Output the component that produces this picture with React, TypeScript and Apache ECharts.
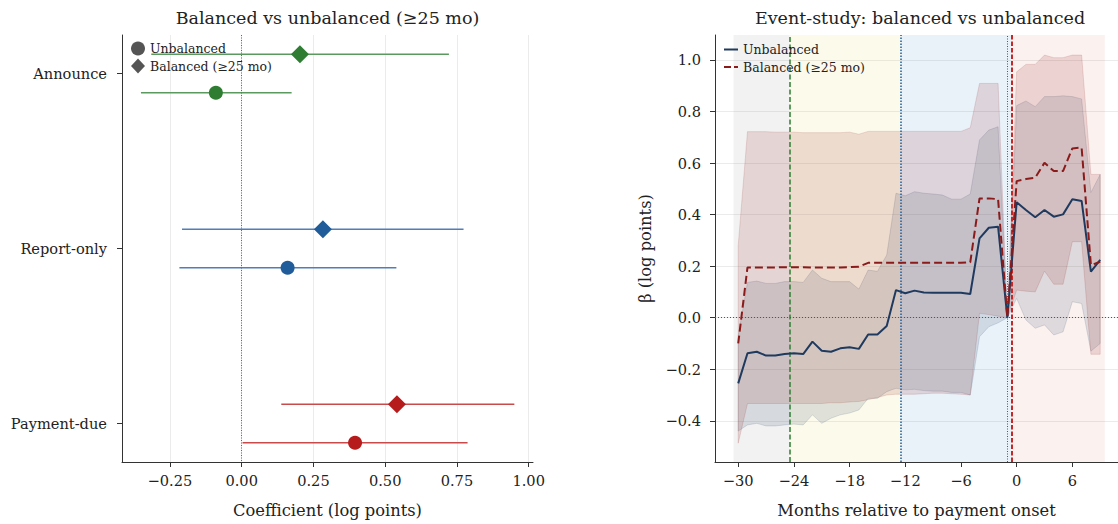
import React, { useEffect, useRef } from 'react';
import * as echarts from 'echarts';

// ---------- Left panel data ----------
const categories = ['Announce', 'Report-only', 'Payment-due'];
const categoryColors = ['#2e7d32', '#1f5c99', '#b71c1c'];
const barColors = ['#5a9a5e', '#4f7fb3', '#c84a4a'];
const unbalCoef = [-0.09, 0.16, 0.395];
const unbalLo = [-0.351, -0.217, 0.003];
const unbalHi = [0.174, 0.539, 0.787];
const balCoef = [0.203, 0.283, 0.541];
const balLo = [-0.315, -0.208, 0.138];
const balHi = [0.722, 0.773, 0.95];
const coefTicks = [-0.25, 0, 0.25, 0.5, 0.75, 1.0];
const categoryTicks = [0, 1, 2];

// ---------- Right panel data ----------
const months = [
  -30, -29, -28, -27, -26, -25, -24, -23, -22, -21, -20, -19, -18, -17, -16,
  -15, -14, -13, -12, -11, -10, -9, -8, -7, -6, -5, -4, -3, -2, -1,
  0, 1, 2, 3, 4, 5, 6, 7, 8, 9,
];
const unbalancedBeta = [
  -0.255, -0.138, -0.132, -0.147, -0.147, -0.141, -0.138, -0.141, -0.093, -0.128,
  -0.132, -0.119, -0.115, -0.121, -0.065, -0.065, -0.032, 0.107, 0.095, 0.105,
  0.098, 0.097, 0.097, 0.097, 0.097, 0.092, 0.308, 0.349, 0.353, 0,
  0.448, 0.418, 0.39, 0.418, 0.392, 0.401, 0.46, 0.453, 0.179, 0.224,
];
const unbalancedHi = [
  -0.07, 0.137, 0.142, 0.133, 0.133, 0.14, 0.14, 0.137, 0.185, 0.153,
  0.14, 0.14, 0.14, 0.111, 0.185, 0.18, 0.243, 0.483, 0.473, 0.489,
  0.483, 0.48, 0.476, 0.46, 0.46, 0.48, 0.69, 0.728, 0.741, 0,
  0.823, 0.841, 0.819, 0.858, 0.858, 0.861, 0.858, 0.849, 0.486, 0.556,
];
const unbalancedLo = [
  -0.44, -0.416, -0.41, -0.42, -0.42, -0.416, -0.413, -0.416, -0.377, -0.41,
  -0.39, -0.377, -0.37, -0.358, -0.313, -0.313, -0.287, -0.274, -0.28, -0.278,
  -0.283, -0.285, -0.285, -0.29, -0.29, -0.3, -0.074, -0.035, -0.02, 0,
  0.075, -0.009, -0.041, -0.028, -0.067, -0.055, 0.062, 0.055, -0.13, -0.1,
];
const balancedBeta = [
  -0.1, 0.195, 0.195, 0.195, 0.195, 0.196, 0.196, 0.196, 0.195, 0.195,
  0.195, 0.195, 0.196, 0.198, 0.213, 0.213, 0.213, 0.213, 0.213, 0.213,
  0.213, 0.213, 0.213, 0.213, 0.213, 0.215, 0.463, 0.463, 0.46, 0,
  0.53, 0.538, 0.543, 0.601, 0.569, 0.569, 0.657, 0.66, 0.204, 0.217,
];
const balancedHi = [
  0.28, 0.722, 0.722, 0.722, 0.72, 0.72, 0.72, 0.718, 0.718, 0.718,
  0.718, 0.718, 0.72, 0.712, 0.723, 0.723, 0.723, 0.723, 0.723, 0.723,
  0.723, 0.723, 0.723, 0.723, 0.723, 0.737, 0.909, 0.909, 0.909, 0,
  0.954, 0.983, 0.983, 1.019, 1.009, 1.009, 1.019, 1.019, 0.556, 0.556,
];
const balancedLo = [
  -0.487, -0.333, -0.333, -0.333, -0.333, -0.333, -0.333, -0.333, -0.333, -0.333,
  -0.33, -0.33, -0.327, -0.325, -0.318, -0.31, -0.3, -0.297, -0.297, -0.297,
  -0.295, -0.293, -0.293, -0.295, -0.297, -0.3, 0.017, 0.012, 0.006, 0,
  0.107, 0.103, 0.1, 0.181, 0.13, 0.13, 0.295, 0.295, -0.142, -0.142,
];
const monthTicks = [-30, -24, -18, -12, -6, 0, 6];
const betaTicks = [-0.4, -0.2, 0, 0.2, 0.4, 0.6, 0.8, 1.0];
const phaseSpans = [
  { from: -30.5, to: -24.5, color: 'rgba(128,128,128,0.1)' },
  { from: -24.5, to: -12.5, color: 'rgba(230,210,60,0.1)' },
  { from: -12.5, to: -0.5, color: 'rgba(40,120,200,0.1)' },
  { from: -0.5, to: 9.5, color: 'rgba(215,100,80,0.09)' },
];
const eventLines = [
  { at: -24.5, color: '#2e7d32', dash: [5, 2.5], width: 1.5 },
  { at: -12.5, color: '#1f5c99', dash: [1.5, 1.5], width: 1.5 },
  { at: -1, color: '#555555', dash: [1, 1.5], width: 1 },
  { at: -0.5, color: '#c62828', dash: [4.5, 2], width: 2 },
];

const FONT = "'DejaVu Serif', serif";
const INK = '#222222';
const ZW = '\u200b';
const minus = (s: string) => s.replace('-', '\u2212');
const ROW_OFFSET = 0.11;
const Y2_MIN = -0.56;
const Y2_MAX = 1.097;

const UNBAL_BAND = 'rgba(31,58,95,0.13)';
const UNBAL_EDGE = 'rgba(31,58,95,0.14)';
const BAL_BAND = 'rgba(139,26,26,0.135)';
const BAL_EDGE = 'rgba(139,26,26,0.14)';

function bandSeries(name: string, lo: number[], hi: number[], fill: string, edge: string) {
  const data = months.map((m, i) => [m, lo[i], hi[i]]);
  return {
    name, type: 'custom', xAxisIndex: 1, yAxisIndex: 1, silent: true, z: 2, clip: true,
    encode: { x: 0, y: [1, 2] },
    data,
    renderItem: (params: any, api: any) => {
      if (params.dataIndex !== 0) return null;
      const upper = data.map((d) => api.coord([d[0], d[2]]));
      const lower = data.map((d) => api.coord([d[0], d[1]])).reverse();
      return {
        type: 'polygon',
        shape: { points: upper.concat(lower) },
        style: { fill, stroke: edge, lineWidth: 1 },
      };
    },
  };
}

function buildOption() {
  const axisLine = { show: true, onZero: false, lineStyle: { color: '#333', width: 1 } };
  const tickStyle = { color: '#333', width: 1 };
  const labelBase = { color: INK, fontSize: 14.6, fontFamily: FONT };
  const nameStyle = { color: INK, fontSize: 16.3, fontFamily: FONT };

  const errData: any[] = [];
  categories.forEach((_, i) => {
    errData.push([unbalLo[i], unbalHi[i], i + ROW_OFFSET, i]);
    errData.push([balLo[i], balHi[i], i - ROW_OFFSET, i]);
  });

  return {
    animation: false,
    textStyle: { fontFamily: FONT },
    grid: [
      { left: 122, right: 1118 - 533, top: 35, bottom: 62, outerBoundsMode: 'none', containLabel: false },
      { left: 715, right: 0, top: 35, bottom: 62, outerBoundsMode: 'none', containLabel: false },
    ],
    graphic: [
      {
        type: 'text', x: 327.5, y: 18, silent: true,
        style: { text: 'Balanced vs unbalanced (\u226525 mo)', align: 'center', verticalAlign: 'middle', textAlign: 'center', textVerticalAlign: 'middle', fontSize: 17.5, fontFamily: FONT, fill: INK },
      },
      {
        type: 'text', x: 920, y: 18, silent: true,
        style: { text: 'Event-study: balanced vs unbalanced', align: 'center', verticalAlign: 'middle', textAlign: 'center', textVerticalAlign: 'middle', fontSize: 17.5, fontFamily: FONT, fill: INK },
      },
    ],
    legend: [
      {
        data: [
          { name: 'Unbalanced' + ZW, icon: 'circle' },
          { name: 'Balanced (\u226525 mo)' + ZW, icon: 'diamond' },
        ],
        orient: 'vertical', left: 131, top: 41.5, itemWidth: 14, itemHeight: 15, itemGap: 3,
        padding: 0, selectedMode: false,
        formatter: (n: string) => n.replace(ZW, ''),
        textStyle: { color: INK, fontSize: 12.5, fontFamily: FONT },
      },
      {
        data: [
          { name: 'Unbalanced', icon: 'rect' },
          { name: 'Balanced (\u226525 mo)', icon: 'path://M0,0h7v2h-7z M10,0h4v2h-4z' },
        ],
        orient: 'vertical', left: 724, top: 43, itemWidth: 14, itemHeight: 2, itemGap: 4.5,
        padding: 0, selectedMode: false,
        textStyle: { color: INK, fontSize: 12.5, fontFamily: FONT },
      },
    ],
    xAxis: [
      {
        gridIndex: 0, type: 'value', min: -0.417, max: 1.015,
        axisLine, axisTick: { show: true, length: 5, customValues: coefTicks, lineStyle: tickStyle },
        axisLabel: { ...labelBase, margin: 10.5, customValues: coefTicks, formatter: (v: number) => minus(v.toFixed(2)) },
        splitLine: { show: true, lineStyle: { color: '#ebebeb', width: 1 } },
        name: 'Coefficient (log points)', nameLocation: 'middle', nameGap: 40, nameTextStyle: nameStyle,
      },
      {
        gridIndex: 1, type: 'value', min: -32.5, max: 10.92,
        axisLine, axisTick: { show: true, length: 5, customValues: monthTicks, lineStyle: tickStyle },
        axisLabel: { ...labelBase, margin: 10.5, customValues: monthTicks, formatter: (v: number) => minus(String(Math.round(v))) },
        splitLine: { show: false },
        name: 'Months relative to payment onset', nameLocation: 'middle', nameGap: 40, nameTextStyle: nameStyle,
      },
    ],
    yAxis: [
      {
        gridIndex: 0, type: 'value', min: -0.22, max: 2.22, inverse: true,
        axisLine, axisTick: { show: true, length: 5, customValues: categoryTicks, lineStyle: tickStyle },
        axisLabel: { ...labelBase, margin: 15, customValues: categoryTicks, formatter: (v: number) => categories[Math.round(v)] },
        splitLine: { show: false },
      },
      {
        gridIndex: 1, type: 'value', min: Y2_MIN, max: Y2_MAX,
        axisLine, axisTick: { show: true, length: 5, customValues: betaTicks, lineStyle: tickStyle },
        axisLabel: { ...labelBase, margin: 14, customValues: betaTicks, formatter: (v: number) => minus(v.toFixed(1)) },
        splitLine: { show: true, lineStyle: { color: '#ebebeb', width: 1 } },
        name: '\u03b2 (log points)', nameLocation: 'middle', nameGap: 62, nameRotate: 90, nameTextStyle: nameStyle,
      },
    ],
    series: [
      // ----- left panel -----
      {
        type: 'custom', xAxisIndex: 0, yAxisIndex: 0, silent: true, z: 2,
        encode: { x: [0, 1], y: 2 },
        data: errData,
        renderItem: (_p: any, api: any) => {
          const a = api.coord([api.value(0), api.value(2)]);
          const b = api.coord([api.value(1), api.value(2)]);
          return {
            type: 'line',
            shape: { x1: a[0], y1: a[1], x2: b[0], y2: b[1] },
            style: { stroke: barColors[api.value(3)], lineWidth: 1.6 },
          };
        },
      },
      {
        name: 'Unbalanced' + ZW, type: 'scatter', xAxisIndex: 0, yAxisIndex: 0, z: 3, silent: true,
        symbol: 'circle', symbolSize: 14, itemStyle: { color: '#555555', opacity: 1 },
        data: categories.map((_, i) => ({ value: [unbalCoef[i], i + ROW_OFFSET], itemStyle: { color: categoryColors[i], opacity: 1 } })),
        markLine: {
          silent: true, symbol: 'none', label: { show: false },
          lineStyle: { color: '#666', type: [1, 1.5], width: 1 },
          data: [{ xAxis: 0 }],
        },
      },
      {
        name: 'Balanced (\u226525 mo)' + ZW, type: 'scatter', xAxisIndex: 0, yAxisIndex: 0, z: 3, silent: true,
        symbol: 'diamond', symbolSize: 18, itemStyle: { color: '#555555', opacity: 1 },
        data: categories.map((_, i) => ({ value: [balCoef[i], i - ROW_OFFSET], itemStyle: { color: categoryColors[i], opacity: 1 } })),
      },
      // ----- right panel -----
      {
        name: 'phases', type: 'custom', xAxisIndex: 1, yAxisIndex: 1, silent: true, z: 1, clip: true,
        encode: { x: [0, 1] },
        data: phaseSpans.map((s) => [s.from, s.to]),
        renderItem: (params: any, api: any) => {
          const a = api.coord([api.value(0), Y2_MAX]);
          const b = api.coord([api.value(1), Y2_MIN]);
          return {
            type: 'rect',
            shape: { x: a[0], y: a[1], width: b[0] - a[0], height: b[1] - a[1] },
            style: { fill: phaseSpans[params.dataIndex].color },
          };
        },
      },
      bandSeries('ubBand', unbalancedLo, unbalancedHi, UNBAL_BAND, UNBAL_EDGE),
      bandSeries('bBand', balancedLo, balancedHi, BAL_BAND, BAL_EDGE),
      {
        name: 'Unbalanced', type: 'line', xAxisIndex: 1, yAxisIndex: 1, z: 4, silent: true,
        symbol: 'none', color: '#1f3a5f', itemStyle: { color: '#1f3a5f' },
        lineStyle: { color: '#1f3a5f', width: 2 },
        data: months.map((m, i) => [m, unbalancedBeta[i]]),
        markLine: {
          silent: true, symbol: 'none', label: { show: false }, z: 3,
          data: [
            ...eventLines.map((l) => ({ xAxis: l.at, lineStyle: { color: l.color, type: l.dash, width: l.width } })),
            { yAxis: 0, lineStyle: { color: '#555555', type: [1, 2], width: 1 } },
          ],
        },
      },
      {
        name: 'Balanced (\u226525 mo)', type: 'line', xAxisIndex: 1, yAxisIndex: 1, z: 4, silent: true,
        symbol: 'none', color: '#8b1a1a', itemStyle: { color: '#8b1a1a' },
        lineStyle: { color: '#8b1a1a', width: 2, type: [8, 4] },
        data: months.map((m, i) => [m, balancedBeta[i]]),
      },
    ],
  };
}

export default function App() {
  const ref = useRef<HTMLDivElement>(null);
  useEffect(() => {
    if (!ref.current) return;
    const chart = echarts.init(ref.current, null, { renderer: 'svg' });
    chart.setOption(buildOption() as any);
    return () => chart.dispose();
  }, []);
  return (
    <div
      ref={ref}
      style={{ position: 'fixed', left: 0, top: 0, width: 1118, height: 524, background: '#ffffff' }}
    />
  );
}
